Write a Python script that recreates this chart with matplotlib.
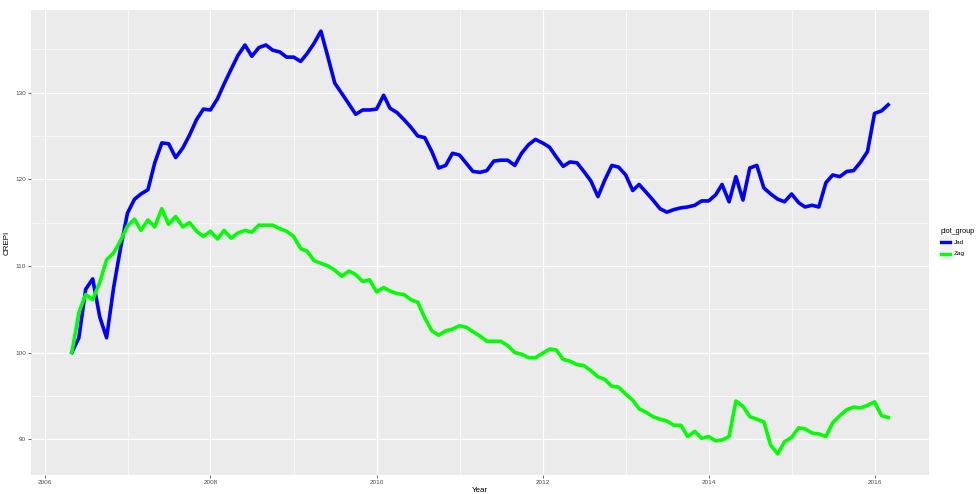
import numpy as np
import pandas as pd
import matplotlib
matplotlib.use("Agg")
import matplotlib.pyplot as plt
import matplotlib.dates as mdates
from matplotlib.ticker import MultipleLocator
from matplotlib.patches import Rectangle
from matplotlib.lines import Line2D

plt.rcParams['font.family'] = ['Liberation Sans', 'DejaVu Sans']

# monthly index, May 2006 .. Mar 2016
months = pd.date_range('2006-05-01', periods=119, freq='MS')

jad = [100.0, 101.7, 107.3, 108.5, 104.1, 101.7, 107.5, 112.0, 116.1, 117.7,
       118.3, 118.8, 121.9, 124.2, 124.1, 122.5, 123.6, 125.1, 126.9, 128.1,
       128.0, 129.3, 131.0, 132.7, 134.3, 135.5, 134.2, 135.2, 135.5, 134.9,
       134.7, 134.1, 134.1, 133.6, 134.5, 135.7, 137.1, 134.1, 131.1, 129.9,
       128.7, 127.5, 128.0, 128.0, 128.1, 129.7, 128.2, 127.7, 126.9, 126.0,
       125.0, 124.8, 123.2, 121.3, 121.6, 123.0, 122.8, 121.8, 120.9, 120.8,
       121.0, 122.1, 122.2, 122.2, 121.6, 123.0, 124.0, 124.6, 124.2, 123.7,
       122.6, 121.5, 122.0, 121.9, 120.9, 119.8, 118.0, 119.9, 121.6, 121.4,
       120.5, 118.7, 119.4, 118.5, 117.6, 116.6, 116.2, 116.5, 116.7, 116.8,
       117.0, 117.5, 117.5, 118.2, 119.4, 117.4, 120.3, 117.6, 121.3, 121.6,
       119.0, 118.3, 117.7, 117.4, 118.3, 117.3, 116.8, 117.0, 116.8, 119.6,
       120.5, 120.3, 120.9, 121.0, 122.0, 123.2, 127.6, 127.9, 128.6]

zag = [100.0, 104.6, 106.7, 106.1, 108.1, 110.7, 111.5, 112.9, 114.6, 115.4,
       114.1, 115.3, 114.5, 116.6, 114.8, 115.7, 114.5, 115.0, 114.0, 113.4,
       114.0, 113.1, 114.1, 113.2, 113.8, 114.1, 113.9, 114.7, 114.7, 114.7,
       114.3, 114.0, 113.4, 112.0, 111.7, 110.6, 110.3, 110.0, 109.5, 108.8,
       109.4, 109.0, 108.2, 108.4, 107.0, 107.5, 107.1, 106.8, 106.7, 106.1,
       105.8, 104.0, 102.5, 102.0, 102.5, 102.7, 103.1, 102.9, 102.4, 101.9,
       101.3, 101.3, 101.3, 100.8, 100.0, 99.8, 99.4, 99.4, 99.9, 100.4,
       100.3, 99.2, 99.0, 98.6, 98.5, 97.9, 97.2, 96.9, 96.1, 96.0,
       95.2, 94.5, 93.5, 93.1, 92.6, 92.3, 92.1, 91.6, 91.6, 90.3,
       90.9, 90.1, 90.3, 89.8, 89.9, 90.3, 94.4, 93.8, 92.6, 92.3,
       92.0, 89.3, 88.3, 89.7, 90.2, 91.3, 91.2, 90.7, 90.6, 90.3,
       91.9, 92.7, 93.4, 93.7, 93.6, 93.9, 94.3, 92.7, 92.5]

groups = ['Jad', 'Zag']
colors = ['#0000FF', '#00FF00']

fig = plt.figure(figsize=(9.78, 4.94), dpi=100)
ax = fig.add_axes([31/978, 1-475/494, (929-31)/978, (475-10)/494])
ax.set_facecolor('#EBEBEB')
for s in ax.spines.values():
    s.set_visible(False)

for vals, c in zip([jad, zag], colors):
    ax.plot(months, vals, color=c, lw=2.6, solid_joinstyle='round', zorder=3)

ax.margins(x=0.05, y=0.05)

ax.xaxis.set_major_locator(mdates.YearLocator(2))
ax.xaxis.set_minor_locator(mdates.YearLocator(1))
ax.xaxis.set_major_formatter(mdates.DateFormatter('%Y'))
ax.yaxis.set_major_locator(MultipleLocator(10))
ax.yaxis.set_minor_locator(MultipleLocator(5))

ax.grid(which='major', color='white', lw=0.9)
ax.grid(which='minor', color='white', lw=0.45)
ax.set_axisbelow(True)

ax.tick_params(which='major', length=2.2, width=0.6, color='#4D4D4D',
               labelsize=4.6, labelcolor='#4D4D4D', pad=1.5)
ax.tick_params(which='minor', length=0)

ax.set_xlabel('Year', fontsize=5.8, labelpad=1.5)
ax.set_ylabel('CREPI', fontsize=5.8, labelpad=3)

# legend drawn in figure pixels
W, H = 978, 494
fig.text(941/W, 1-231/H, 'plot_group', fontsize=5.2, va='center', ha='left')
for k, (g, c) in enumerate(zip(groups, colors)):
    yc = 242 + 12*k
    fig.add_artist(Rectangle((940/W, 1-(yc+6)/H), 12/W, 12/H,
                             transform=fig.transFigure, facecolor='#F2F2F2',
                             edgecolor='none'))
    fig.add_artist(Line2D([941.5/W, 950.5/W], [1-yc/H, 1-yc/H],
                          transform=fig.transFigure, color=c, lw=2.4))
    fig.text(954/W, 1-yc/H, g, fontsize=4.6, va='center', ha='left')

fig.savefig('out.png', dpi=100)
